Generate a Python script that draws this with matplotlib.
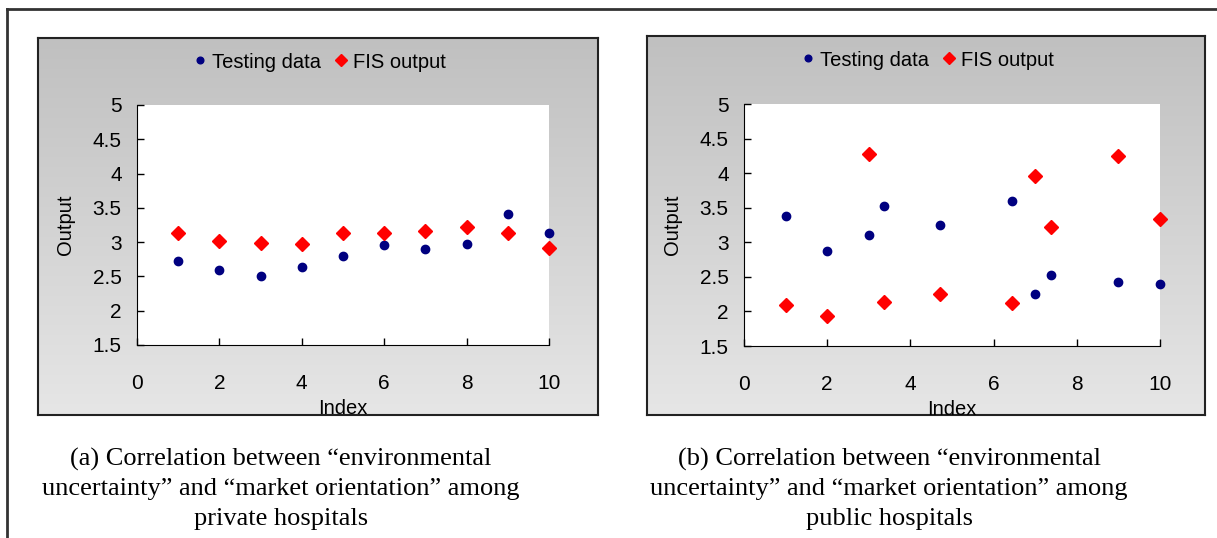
import matplotlib
matplotlib.use("Agg")
import matplotlib.pyplot as plt
import numpy as np
from matplotlib.lines import Line2D
from matplotlib.ticker import FormatStrFormatter

plt.rcParams['font.family'] = 'Liberation Sans'

# ---- data ----
x_private = [1, 2, 3, 4, 5, 6, 7, 8, 9, 10]
test_private = [2.73, 2.59, 2.50, 2.64, 2.80, 2.96, 2.90, 2.98, 3.41, 3.14]
fis_private = [3.13, 3.02, 2.99, 2.97, 3.13, 3.13, 3.16, 3.22, 3.13, 2.91]

x_public = [1, 2, 3, 3.37, 4.72, 6.44, 7, 7.39, 9, 10]
test_public = [3.38, 2.88, 3.11, 3.53, 3.25, 3.59, 2.25, 2.52, 2.43, 2.40]
fis_public = [2.09, 1.94, 4.27, 2.14, 2.25, 2.12, 3.96, 3.22, 4.25, 3.33]

x_ticks = [0, 2, 4, 6, 8, 10]
y_ticks = [1.5, 2, 2.5, 3, 3.5, 4, 4.5, 5]

captions = [
    ["(a) Correlation between \u201cenvironmental",
     "uncertainty\u201d and \u201cmarket orientation\u201d among",
     "private hospitals"],
    ["(b) Correlation between \u201cenvironmental",
     "uncertainty\u201d and \u201cmarket orientation\u201d among",
     "public hospitals"],
]

W, H = 1217, 538
fig = plt.figure(figsize=(W / 100, H / 100), dpi=100)


def frac(x0, y0, x1, y1):
    # pixel box (top-left origin) -> figure fraction rect
    return [x0 / W, 1 - y1 / H, (x1 - x0) / W, (y1 - y0) / H]


# outer frame (top and left edges)
fig.add_artist(Line2D([7 / W, 1], [1 - 9 / H, 1 - 9 / H], color='#333333', lw=2))
fig.add_artist(Line2D([7 / W, 7 / W], [0, 1 - 9 / H], color='#333333', lw=2))

panels = [
    dict(box=(38, 38, 598, 415), ax=(137, 105, 549, 345),
         x=x_private, t=test_private, f=fis_private, cap=captions[0], cx=281),
    dict(box=(647, 36, 1205, 415), ax=(744, 104, 1160, 346),
         x=x_public, t=test_public, f=fis_public, cap=captions[1], cx=889),
]

grad = np.linspace(0, 1, 256).reshape(-1, 1)
gray_cmap = matplotlib.colors.LinearSegmentedColormap.from_list('g', ['#c0c0c0', '#e6e6e6'])

for p in panels:
    # gray gradient chart area
    bg = fig.add_axes(frac(*p['box']))
    bg.imshow(grad, aspect='auto', cmap=gray_cmap, extent=[0, 1, 0, 1])
    bg.set_xticks([])
    bg.set_yticks([])
    for s in bg.spines.values():
        s.set_color('#222222')
        s.set_linewidth(1.5)

    ax = fig.add_axes(frac(*p['ax']))
    ax.set_facecolor('white')
    ax.plot(p['x'], p['t'], 'o', color='#000080', ms=6, label='Testing data', clip_on=False)
    ax.plot(p['x'], p['f'], 'D', color='#ff0000', ms=7.5, label='FIS output', clip_on=False)
    ax.set_xlim(0, 10)
    ax.set_ylim(1.5, 5)
    ax.set_xticks(x_ticks)
    ax.set_yticks(y_ticks)
    ax.yaxis.set_major_formatter(FormatStrFormatter('%g'))
    ax.spines['top'].set_visible(False)
    ax.spines['right'].set_visible(False)
    ax.spines['left'].set_color('black')
    ax.spines['bottom'].set_color('black')
    ax.tick_params(axis='both', direction='in', length=5, width=1, labelsize=15)
    ax.tick_params(axis='x', pad=21)
    ax.tick_params(axis='y', pad=11)
    ax.set_xlabel('Index', fontsize=14.5)
    ax.set_ylabel('Output', fontsize=14.5)
    ax.xaxis.set_label_coords(0.5, -0.225)
    ax.yaxis.set_label_coords(-0.15, 0.5)

    bx0, by0, bx1, by1 = p['box']
    ax.legend(loc='center', bbox_to_anchor=((bx0 + bx1) / 2 / W, 1 - (by0 + 24) / H),
              bbox_transform=fig.transFigure, ncol=2, frameon=False, fontsize=14.5,
              handletextpad=0.1, columnspacing=0.5, handlelength=1.0, markerscale=0.8)

    for i, line in enumerate(p['cap']):
        fig.text(p['cx'] / W, 1 - (459 + 30 * i) / H, line, ha='center', va='center',
                 fontsize=19, family='Liberation Serif')

fig.savefig('out.png', dpi=100)
